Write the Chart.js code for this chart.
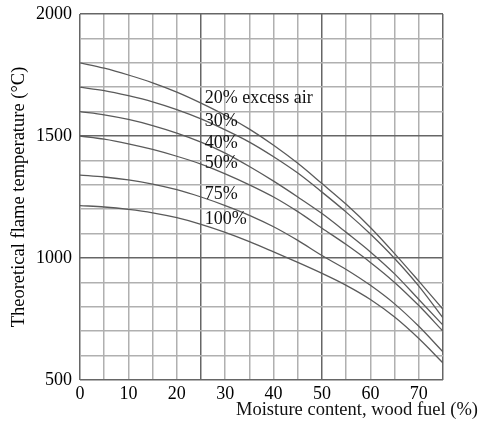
<!DOCTYPE html>
<html>
<head>
<meta charset="utf-8">
<script src="https://cdn.jsdelivr.net/npm/chart.js@4/dist/chart.umd.min.js"></script>
<style>
  html, body { margin: 0; padding: 0; background: #fff; }
  #flameChart { display: block; }
</style>
</head>
<body>
<canvas id="flameChart" width="480" height="426"></canvas>
<script>
// Moisture content (%) along the x axis
const moisture = [0, 5, 10, 15, 20, 25, 30, 35, 40, 45, 50, 55, 60, 65, 70, 75];

// Theoretical flame temperature (°C) for each excess air level
const air20  = [1800, 1778, 1750, 1718, 1680, 1635, 1585, 1528, 1462, 1388, 1305, 1220, 1125, 1018, 905, 790];
const air30  = [1700, 1686, 1665, 1640, 1608, 1570, 1525, 1475, 1415, 1348, 1270, 1188, 1098, 998, 885, 755];
const air40  = [1600, 1587, 1568, 1543, 1512, 1475, 1430, 1375, 1315, 1250, 1182, 1105, 1025, 935, 830, 725];
const air50  = [1500, 1487, 1468, 1445, 1417, 1385, 1345, 1300, 1250, 1190, 1122, 1055, 982, 900, 805, 700];
const air75  = [1340, 1332, 1320, 1303, 1280, 1250, 1215, 1175, 1128, 1072, 1010, 953, 888, 812, 720, 615];
const air100 = [1215, 1209, 1199, 1185, 1165, 1138, 1105, 1067, 1025, 982, 937, 888, 830, 758, 670, 570];

const seriesNames = ['20% excess air', '30%', '40%', '50%', '75%', '100%'];
const seriesValues = [air20, air30, air40, air50, air75, air100];

// where the curve labels sit, in data units (x = moisture, y = temperature)
const labelAnchors = [
    { x: 25.8, y: 1654 },
    { x: 25.8, y: 1561 },
    { x: 25.8, y: 1469 },
    { x: 25.8, y: 1387 },
    { x: 25.8, y: 1262 },
    { x: 25.8, y: 1160 }
];

const serif = "'Liberation Serif', 'DejaVu Serif', serif";

const gridColor = (step) => (ctx) => (ctx.tick && ctx.tick.value % step === 0) ? '#666' : '#b0b0b0';

// draws the curve labels and the x axis title
const annotate = {
    id: 'annotate',
    afterDraw(chart) {
        const c = chart.ctx;
        const xs = chart.scales.x, ys = chart.scales.y;
        c.save();
        c.fillStyle = '#111';
        c.font = '18px ' + serif;
        c.textBaseline = 'middle';
        c.textAlign = 'left';
        seriesNames.forEach((name, i) => {
            const p = labelAnchors[i];
            c.fillText(name, xs.getPixelForValue(p.x), ys.getPixelForValue(p.y));
        });
        c.textAlign = 'right';
        c.font = '18.5px ' + serif;
        c.fillText('Moisture content, wood fuel (%)', 478, 410);
        c.restore();
    }
};

const ctx = document.getElementById('flameChart').getContext('2d');
const flameChart = new Chart(ctx, {
    type: 'line',
    data: {
        datasets: seriesValues.map((vals, i) => ({
            label: seriesNames[i],
            data: moisture.map((m, j) => ({ x: m, y: vals[j] })),
            borderColor: '#5a5a5a',
            borderWidth: 1.3,
            pointRadius: 0,
            fill: false,
            cubicInterpolationMode: 'monotone'
        }))
    },
    options: {
        responsive: false,
        animation: false,
        layout: { padding: { left: 0, right: 37, top: 14, bottom: 0 } },
        plugins: {
            legend: { display: false },
            tooltip: { enabled: false }
        },
        scales: {
            x: {
                type: 'linear',
                min: 0,
                max: 75,
                afterFit: (s) => { s.height = 46; s.paddingLeft = 0; s.paddingRight = 0; },
                border: { display: false },
                grid: {
                    color: gridColor(25),
                    lineWidth: 1.5,
                    drawTicks: false
                },
                ticks: {
                    stepSize: 5,
                    autoSkip: false,
                    maxRotation: 0,
                    padding: 3,
                    color: '#000',
                    font: { family: serif, size: 18 },
                    callback: (v) => (v % 10 === 0 && v < 75) ? String(v) : ''
                }
            },
            y: {
                min: 500,
                max: 2000,
                afterFit: (s) => { s.width = 80; s.paddingTop = 0; s.paddingBottom = 0; },
                border: { display: false },
                title: {
                    display: true,
                    text: 'Theoretical flame temperature (°C)',
                    color: '#000',
                    font: { family: serif, size: 18.5 },
                    padding: { top: 8, bottom: 0 }
                },
                grid: {
                    color: gridColor(500),
                    lineWidth: 1.5,
                    drawTicks: false
                },
                ticks: {
                    stepSize: 100,
                    autoSkip: false,
                    padding: 8,
                    color: '#000',
                    font: { family: serif, size: 18 },
                    callback: (v) => (v % 500 === 0) ? String(v) : ''
                }
            }
        }
    },
    plugins: [annotate]
});
</script>
</body>
</html>
